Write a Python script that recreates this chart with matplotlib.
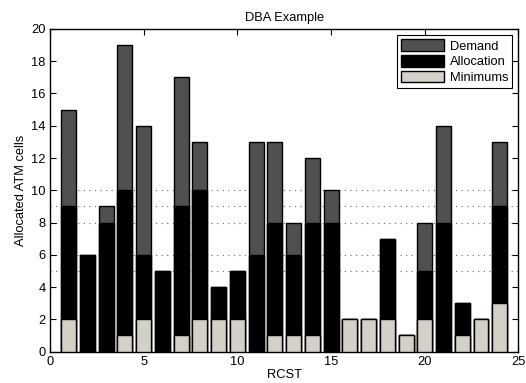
import matplotlib
matplotlib.use("Agg")
import matplotlib.pyplot as plt
from matplotlib.ticker import MultipleLocator
import numpy as np

rcst = list(range(1, 25))
demand = [15, 6, 9, 19, 14, 5, 17, 13, 4, 5, 13, 13, 8, 12, 10, 2, 2, 7, 1, 8, 14, 3, 2, 13]
allocation = [9, 6, 8, 10, 6, 5, 9, 10, 4, 5, 6, 8, 6, 8, 8, 2, 2, 7, 1, 5, 8, 3, 2, 9]
minimums = [2, 0, 0, 1, 2, 0, 1, 2, 2, 2, 0, 1, 1, 1, 0, 2, 2, 2, 1, 2, 0, 1, 2, 3]
dotted_levels = [5, 6, 8, 9, 10]

plt.rcParams['font.family'] = ['Liberation Sans', 'DejaVu Sans']
fig = plt.figure(figsize=(5.26, 3.83), dpi=100)
ax = fig.add_axes([0.095, 0.0822, 0.8907, 0.8421])

for lv in dotted_levels:
    ax.axhline(lv, color='#666666', linestyle=(0, (1, 4)), linewidth=0.8, zorder=0)

w = 0.8
ax.bar(rcst, demand, width=w, color='#505050', edgecolor='black', linewidth=1.0, label='Demand', zorder=2)
ax.bar(rcst, allocation, width=w, color='black', edgecolor='black', linewidth=1.0, label='Allocation', zorder=3)
ax.bar(rcst, minimums, width=w, color='#d4d0c8', edgecolor='black', linewidth=1.0, label='Minimums', zorder=4)

ax.set_xlim(0, 25)
ax.set_ylim(0, 20)
ax.xaxis.set_major_locator(MultipleLocator(5))
ax.yaxis.set_major_locator(MultipleLocator(2))
ax.tick_params(direction='in', length=4, labelsize=9.3, top=True, right=True, width=0.8, pad=3)
for s in ax.spines.values():
    s.set_linewidth(1.0)

ax.set_title('DBA Example', fontsize=9.3, pad=6)
ax.set_xlabel('RCST', fontsize=9.3, labelpad=1)
ax.set_ylabel('Allocated ATM cells', fontsize=9.3, labelpad=3)

leg = ax.legend(loc='upper right', fontsize=9.3, frameon=True, fancybox=False,
                edgecolor='black', framealpha=1, borderaxespad=0.5,
                handlelength=3.4, handleheight=1.0, labelspacing=0.2,
                handletextpad=0.4, borderpad=0.3)
leg.get_frame().set_linewidth(0.8)

fig.savefig('out.png', dpi=100)
